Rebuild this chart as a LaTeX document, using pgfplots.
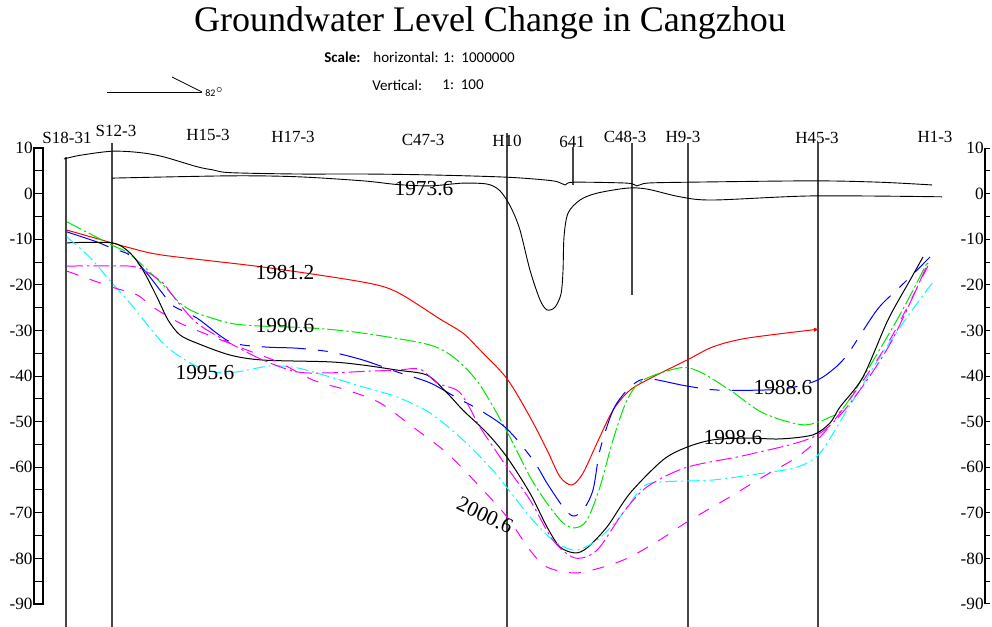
\documentclass[border=0pt]{standalone}
\usepackage{fontspec}
\setmainfont{Liberation Serif}
\newfontfamily\calfont{Carlito}
\usepackage{pgfplots}
\pgfplotsset{compat=1.18}
\usetikzlibrary{arrows.meta}
\definecolor{wellgray}{RGB}{70,70,70}
\definecolor{cred}{RGB}{255,0,0}
\definecolor{cgreen}{RGB}{0,230,0}
\definecolor{cblue}{RGB}{0,0,255}
\definecolor{ccyan}{RGB}{0,255,255}
\definecolor{cmag}{RGB}{255,0,255}
\begin{document}
\begin{tikzpicture}
\useasboundingbox (0,0) rectangle (496pt,313.5pt);
\begin{axis}[at={(0,0)},anchor=south west,scale only axis,width=496pt,height=313.5pt,
  xmin=0,xmax=992,ymin=-95.04,ymax=42.46,hide axis,clip=false,
  every axis plot/.append style={line width=0.5pt}]
% well lines
\addplot[wellgray,line width=0.75pt] coordinates {(66,8.0)(66,-95.04)};
\addplot[wellgray,line width=0.75pt] coordinates {(112,11.1)(112,-95.04)};
\addplot[wellgray,line width=0.75pt] coordinates {(507,13.3)(507,-95.04)};
\addplot[wellgray,line width=0.6pt] coordinates {(573,10.2)(573,1.9)};
\addplot[wellgray,line width=0.6pt] coordinates {(632,11.1)(632,-22.2)};
\addplot[wellgray,line width=0.75pt] coordinates {(688,11.1)(688,-95.04)};
\addplot[wellgray,line width=0.75pt] coordinates {(818,11.1)(818,-95.04)};
% 1973.6 upper
\addplot[black,smooth,line width=0.45pt] coordinates {(64,7.6)(80,8.4)(112,9.3)(140,9.0)(163,8.1)(197,5.9)(213,5.2)(230,4.6)(297,4.3)(363,4.3)(430,4.1)(507,3.6)(553,2.8)(565,1.9)(573,2.5)(627,2.3)(637,1.7)(647,2.3)(687,2.5)(813,2.8)(880,2.5)(932,1.9)};
% 1973.6 lower
\addplot[black,smooth,line width=0.45pt] coordinates {(112,3.4)(230,3.9)(297,3.7)(363,2.8)(397,2.0)(430,1.7)(463,2.3)(487,2.1)(498,1.0)(505,-0.8)(512,-3.5)(520,-8.0)(530,-16.8)(540,-23.3)(547,-25.5)(555,-24.9)(561,-22.0)(563,-17.0)(564,-9.5)(568,-4.3)(580,-1.4)(597,0.1)(627,1.2)(647,1.0)(680,-0.7)(713,-1.4)(813,-0.5)(942,-0.7)};
% 1981.2 red
\addplot[cred,smooth,-{Latex[length=3pt,width=2pt]}] coordinates {(67,-8.0)(112,-10.8)(130,-11.9)(163,-13.5)(263,-16.1)(363,-19.4)(397,-21.6)(440,-27.5)(463,-30.6)(480,-34.3)(507,-40.6)(530,-49.0)(547,-56.2)(560,-62.1)(572,-63.9)(583,-61.3)(597,-54.7)(613,-47.5)(630,-43.1)(653,-40.2)(687,-36.5)(713,-33.6)(747,-31.7)(820,-29.7)};
% 1990.6 green
\addplot[cgreen,smooth,dash pattern=on 8pt off 1.5pt on 1.2pt off 1.5pt] coordinates {(67,-6.2)(112,-11.3)(130,-13.3)(163,-20.0)(180,-24.0)(197,-26.2)(230,-28.4)(257,-29.0)(313,-29.5)(363,-30.6)(430,-33.2)(457,-36.5)(480,-42.0)(507,-52.2)(530,-62.1)(547,-67.9)(563,-72.2)(575,-73.3)(587,-71.6)(600,-64.3)(613,-54.0)(627,-45.3)(643,-40.9)(680,-38.2)(700,-39.1)(730,-43.1)(763,-48.1)(803,-50.7)(830,-49.0)(847,-45.9)(897,-27.7)(927,-15.2)};
% 1988.6 blue
\addplot[cblue,smooth,dash pattern=on 22pt off 6pt on 5pt off 6pt] coordinates {(67,-8.4)(97,-10.6)(112,-12.0)(130,-13.5)(147,-17.5)(163,-22.0)(173,-24.6)(197,-27.3)(230,-32.5)(263,-33.6)(297,-33.9)(330,-34.7)(363,-36.5)(397,-39.1)(430,-41.5)(457,-44.8)(480,-47.5)(507,-51.6)(533,-58.4)(547,-63.5)(563,-68.7)(573,-70.7)(583,-69.4)(593,-65.0)(600,-56.2)(613,-47.5)(627,-43.1)(640,-40.9)(653,-40.7)(687,-42.2)(720,-43.1)(780,-42.9)(813,-41.3)(830,-39.1)(847,-35.4)(877,-25.5)(897,-21.1)(910,-18.3)(930,-13.9)};
% 1998.6 black
\addplot[black,smooth] coordinates {(67,-10.8)(112,-10.8)(130,-13.0)(143,-16.8)(157,-22.7)(168,-27.7)(180,-31.0)(197,-32.8)(230,-35.4)(263,-36.5)(330,-36.9)(363,-37.6)(397,-38.7)(427,-39.8)(447,-43.7)(463,-47.5)(487,-52.5)(507,-57.8)(530,-65.7)(547,-73.1)(560,-77.5)(575,-78.8)(587,-77.7)(607,-73.1)(630,-65.7)(663,-58.4)(687,-55.6)(713,-54.0)(747,-53.6)(780,-53.8)(813,-52.9)(830,-50.3)(840,-46.8)(863,-40.2)(888,-27.7)(910,-19.0)(923,-13.9)};
% 1995.6 cyan
\addplot[ccyan,smooth,dash pattern=on 6pt off 2pt on 1pt off 2pt] coordinates {(67,-9.5)(90,-14.0)(112,-19.6)(130,-24.0)(163,-32.8)(190,-37.1)(213,-39.1)(237,-39.1)(270,-37.8)(297,-38.2)(330,-40.2)(363,-42.4)(397,-44.6)(430,-48.1)(463,-54.0)(490,-60.0)(507,-64.5)(530,-70.9)(553,-76.0)(575,-78.2)(597,-76.0)(620,-70.9)(643,-64.3)(663,-63.2)(713,-62.8)(763,-61.3)(797,-60.0)(820,-56.9)(847,-47.5)(880,-35.8)(910,-26.2)(933,-19.4)};
% magenta dash-dot
\addplot[cmag,smooth,dash pattern=on 8pt off 2pt on 1.2pt off 2pt] coordinates {(67,-15.9)(130,-15.9)(147,-17.2)(163,-19.6)(175,-23.0)(197,-28.4)(230,-32.8)(263,-36.5)(297,-39.1)(330,-39.3)(363,-39.0)(397,-38.7)(420,-38.5)(437,-41.5)(457,-43.1)(467,-45.9)(480,-51.2)(507,-60.0)(530,-67.2)(553,-76.0)(575,-79.9)(597,-78.2)(623,-70.0)(647,-64.3)(687,-60.0)(747,-57.3)(813,-53.4)(847,-46.8)(890,-33.0)(928,-15.2)};
% 2000.6 magenta dashed
\addplot[cmag,smooth,dash pattern=on 6pt off 6pt] coordinates {(67,-17.0)(112,-20.5)(137,-22.2)(153,-24.9)(180,-28.4)(213,-31.4)(247,-34.3)(280,-37.1)(313,-40.9)(347,-43.1)(380,-45.9)(413,-51.2)(447,-56.9)(480,-64.3)(507,-70.9)(530,-78.2)(547,-81.9)(575,-83.2)(603,-81.9)(630,-79.7)(663,-75.5)(687,-72.0)(730,-66.5)(763,-62.1)(797,-57.8)(820,-53.4)(847,-46.0)(890,-32.0)(928,-15.8)};
% orientation symbol
\addplot[black,line width=0.4pt] coordinates {(107,22.28)(202,22.28)};
\addplot[black,line width=0.4pt] coordinates {(172,25.57)(202,22.28)};
\node[anchor=west,font=\calfont\fontsize{5}{6}\selectfont,inner sep=0pt] at (axis cs:205,22.3) {82$^{\circ}$};
% title and scale
\node[font=\fontsize{18}{20}\selectfont] at (axis cs:490,37.4) {Groundwater Level Change in Cangzhou};
\node[anchor=west,font=\calfont\bfseries\fontsize{7.5}{9}\selectfont,inner sep=0pt] at (axis cs:324,29.96) {Scale:};
\node[anchor=west,font=\calfont\fontsize{7.5}{9}\selectfont,inner sep=0pt] at (axis cs:373,29.96) {horizontal: 1:\ \ 1000000};
\node[anchor=west,font=\calfont\fontsize{7.5}{9}\selectfont,inner sep=0pt] at (axis cs:372,23.82) {Vertical:};
\node[anchor=west,font=\calfont\fontsize{7.5}{9}\selectfont,inner sep=0pt] at (axis cs:442,23.82) {1:\ \ 100};
% well names
\begin{scope}[every node/.style={font=\fontsize{8.5}{10}\selectfont,inner sep=0pt}]
\node at (axis cs:67,12.2) {S18-31};
\node at (axis cs:116,13.7) {S12-3};
\node at (axis cs:208,12.9) {H15-3};
\node at (axis cs:293,12.4) {H17-3};
\node at (axis cs:423,11.8) {C47-3};
\node at (axis cs:507,11.5) {H10};
\node at (axis cs:572,11.3) {641};
\node at (axis cs:625,12.4) {C48-3};
\node at (axis cs:683,12.4) {H9-3};
\node at (axis cs:817,12.2) {H45-3};
\node at (axis cs:935,12.4) {H1-3};
\end{scope}
% curve labels
\begin{scope}[every node/.style={font=\fontsize{10.7}{12}\selectfont,inner sep=0pt}]
\node at (axis cs:424,1.0) {1973.6};
\node at (axis cs:285,-17.2) {1981.2};
\node at (axis cs:285,-29.0) {1990.6};
\node at (axis cs:205,-39.3) {1995.6};
\node at (axis cs:783,-42.6) {1988.6};
\node at (axis cs:733,-53.6) {1998.6};
\node[rotate=-25] at (axis cs:485,-70.5) {2000.6};
\end{scope}
\end{axis}
% left ruler
\begin{axis}[at={(17pt,11.5pt)},anchor=south west,scale only axis,width=4.5pt,height=228pt,
  xmin=0,xmax=1,ymin=-90,ymax=10,xtick=\empty,
  ytick={-90,-80,...,10},yticklabels={-90,-80,-70,-60,-50,-40,-30,-20,-10,0,10},
  minor ytick={-85,-75,...,5},ymajorgrids,yminorgrids,
  major grid style={black,line width=0.5pt},minor grid style={black,line width=0.5pt},
  major tick length=0pt,minor tick length=0pt,axis line style={line width=0.6pt},
  yticklabel style={font=\fontsize{8.6}{9}\selectfont,inner sep=0.5pt}]
\end{axis}
% right ruler
\begin{axis}[at={(492.5pt,11.5pt)},anchor=south west,scale only axis,width=3pt,height=228pt,
  xmin=0,xmax=1,ymin=-90,ymax=10,axis x line=none,axis y line*=left,
  y axis line style={-,line width=0.6pt},tick align=inside,
  ytick={-90,-80,...,10},yticklabels={-90,-80,-70,-60,-50,-40,-30,-20,-10,0,10},
  minor ytick={-85,-75,...,5},major tick length=2.5pt,minor tick length=2.5pt,
  tick style={black,line width=0.5pt},
  yticklabel style={font=\fontsize{8.6}{9}\selectfont,inner sep=0.5pt}]
\end{axis}
\end{tikzpicture}
\end{document}
